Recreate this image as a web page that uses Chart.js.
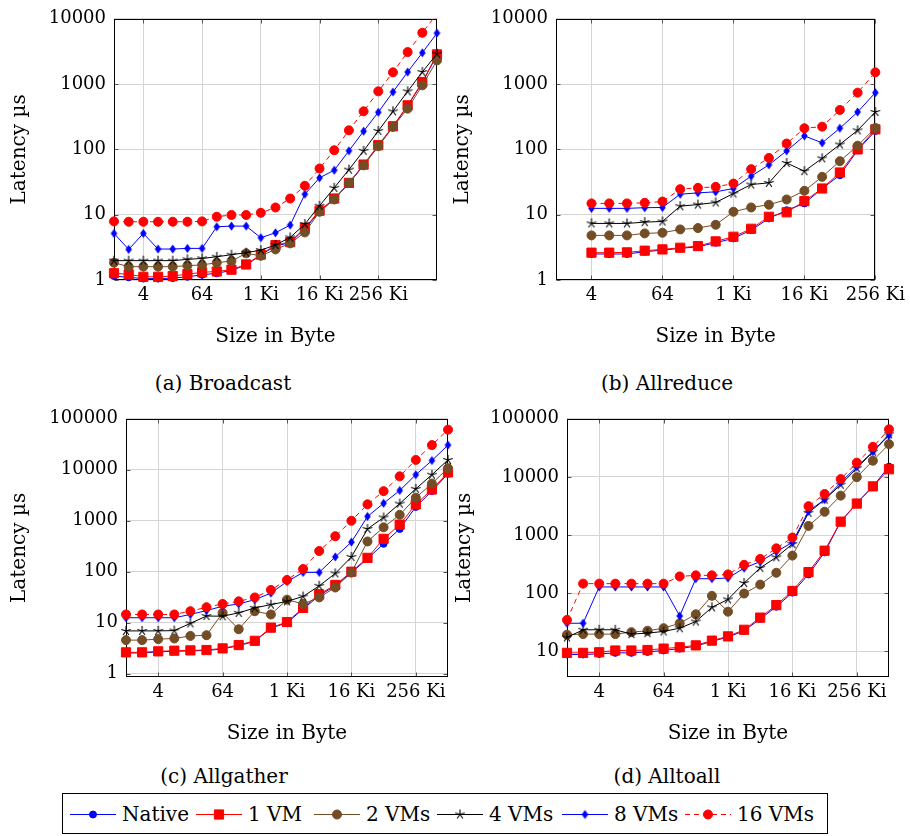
<!DOCTYPE html>
<html>
<head>
<meta charset="utf-8">
<script src="https://cdn.jsdelivr.net/npm/chart.js@4.4.1/dist/chart.umd.min.js"></script>
<style>
  body { margin: 0; width: 910px; height: 836px; background: #fff; position: relative; overflow: hidden;
         font-family: "DejaVu Serif", serif; color: #000; }
  canvas.panel { position: absolute; }
  .caption { position: absolute; font-size: 20px; line-height: 24px; transform: translateX(-50%); white-space: nowrap; }
  #legend { position: absolute; left: 62px; top: 793px; width: 766px; height: 41px; border: 1px solid #000;
            box-sizing: border-box; font-size: 20px; }
  #legend .item { position: absolute; top: 0; height: 39px; display: flex; align-items: center; white-space: nowrap; }
  #legend canvas { margin-right: 6px; }
</style>
</head>
<body>
<canvas id="bcast" class="panel"></canvas>
<canvas id="allreduce" class="panel"></canvas>
<canvas id="allgather" class="panel"></canvas>
<canvas id="alltoall" class="panel"></canvas>

<div class="caption" style="left:223px; top:371px">(a) Broadcast</div>
<div class="caption" style="left:667px; top:371px">(b) Allreduce</div>
<div class="caption" style="left:224px; top:764px">(c) Allgather</div>
<div class="caption" style="left:667px; top:764px">(d) Alltoall</div>
<div id="legend"></div>

<script>
// message sizes in byte
const sizes = [1, 2, 4, 8, 16, 32, 64, 128, 256, 512, 1024, 2048, 4096, 8192, 16384,
  32768, 65536, 131072, 262144, 524288, 1048576, 2097152, 4194304];
const sizesBcast = sizes.slice(0, 23);
const sizesAllreduce = sizes.slice(2, 19);
const sizesAllgather = sizes.slice(0, 21);
const sizesAlltoall = sizes.slice(0, 21);

const sizeTicks = [4, 64, 1024, 16384, 262144];
const sizeTickLabels = ["4", "64", "1 Ki", "16 Ki", "256 Ki"];
const latencyTicks = [1, 10, 100, 1000, 10000, 100000];

const seriesNames = ["Native", "1 VM", "2 VMs", "4 VMs", "8 VMs", "16 VMs"];

// (a) Broadcast, latency in µs
const bcastNative = [1.15, 1.1, 1.05, 1.05, 1.07, 1.12, 1.2, 1.27, 1.4, 1.7, 2.4, 3.35, 3.7, 6.1, 11.2, 17.3, 30, 57, 112, 222, 465, 1050, 2800];
const bcast1vm = [1.27, 1.22, 1.12, 1.12, 1.15, 1.23, 1.31, 1.35, 1.44, 1.73, 2.45, 3.43, 3.8, 6.3, 11.5, 17.7, 30.7, 58.6, 116, 226, 473, 1076, 2850];
const bcast2vm = [1.84, 1.6, 1.6, 1.6, 1.6, 1.66, 1.7, 1.84, 1.95, 2.56, 2.35, 2.94, 3.64, 5.35, 11.1, 17.1, 30.7, 57, 112, 221, 421, 957, 2307];
const bcast4vm = [1.98, 1.98, 1.98, 1.98, 1.98, 2.07, 2.14, 2.27, 2.44, 2.62, 2.87, 3.43, 4.49, 7.18, 13.7, 25.8, 49, 95, 192, 383, 774, 1530, 2918];
const bcast8vm = [5.17, 2.94, 5.17, 2.98, 2.98, 3.05, 3.05, 6.53, 6.69, 6.69, 4.44, 5.29, 6.93, 20.6, 36.7, 48, 95, 190, 370, 757, 1530, 3020, 6040];
const bcast16vm = [7.9, 7.8, 7.8, 7.8, 7.8, 7.8, 7.9, 9.3, 9.9, 9.9, 10.7, 12.9, 17.7, 27.7, 51, 97, 196, 383, 774, 1513, 3093, 6110, 12000];

// (b) Allreduce
const allreduceNative = [2.5, 2.5, 2.5, 2.71, 2.87, 3.05, 3.23, 3.72, 4.34, 5.81, 8.77, 11.7, 14.9, 25.2, 40.3, 97, 192];
const allreduce1vm = [2.62, 2.62, 2.65, 2.81, 2.94, 3.12, 3.31, 3.9, 4.6, 6.09, 9.3, 10.9, 16.1, 25.2, 44.3, 100, 203];
const allreduce2vm = [4.82, 4.82, 4.82, 5.17, 5.29, 5.95, 6.24, 7.01, 11.1, 12.9, 14.2, 17.1, 23.2, 38, 66, 114, 213];
const allreduce4vm = [7.35, 7.35, 7.35, 7.7, 7.88, 13.5, 14.3, 15.4, 21.1, 29, 30.7, 62, 46.4, 73, 119, 196, 374];
const allreduce8vm = [12.5, 12.5, 12.5, 12.8, 12.9, 20.6, 21.6, 22.4, 25.2, 38.9, 58, 95, 161, 126, 211, 374, 739];
const allreduce16vm = [14.9, 14.9, 14.9, 15.2, 15.9, 24.6, 25.8, 26.7, 30, 49.8, 74, 123, 211, 223, 402, 739, 1513];

// (c) Allgather
const allgatherNative = [2.55, 2.55, 2.68, 2.75, 2.8, 2.85, 3.05, 3.55, 4.3, 7.8, 10.0, 18.5, 34, 53, 96, 180, 353, 690, 1870, 3820, 8370];
const allgather1vm = [2.62, 2.62, 2.74, 2.82, 2.86, 2.91, 3.13, 3.64, 4.41, 8.0, 10.3, 19.5, 36, 55, 100, 187, 442, 837, 2100, 4100, 8880];
const allgather2vm = [4.55, 4.55, 4.76, 4.9, 5.5, 5.68, 15.6, 7.43, 16.8, 14.5, 28.3, 23.3, 31.3, 49, 96, 392, 743, 1306, 2830, 5360, 10770];
const allgather4vm = [6.9, 6.9, 6.9, 7.0, 9.7, 13.5, 13.4, 15.6, 19.5, 22.6, 26.2, 32.7, 52.8, 92.6, 195, 690, 1160, 2164, 4225, 8000, 15600];
const allgather8vm = [12.5, 12.5, 12.5, 12.5, 14.5, 17.3, 21, 23.3, 28.3, 38, 64, 97, 97, 195, 381, 1213, 2198, 3923, 8000, 15170, 30500];
const allgather16vm = [14.5, 14.5, 14.5, 14.5, 16.8, 20.1, 23.3, 26.2, 31.3, 44, 69, 113, 255, 497, 1000, 2100, 3810, 7430, 15600, 30500, 61200];

// (d) Alltoall
const alltoallNative = [8.77, 8.77, 9.0, 9.37, 9.37, 9.74, 10.3, 11.1, 12.2, 14.8, 17.5, 22.5, 36, 58.4, 102, 210, 503, 1698, 3573, 6870, 15000];
const alltoall1vm = [9.37, 9.37, 9.6, 10.3, 10.3, 10.5, 11.1, 11.7, 12.6, 15.2, 18.0, 23.4, 37.9, 62.2, 109, 230, 537, 1698, 3480, 6870, 13560];
const alltoall2vm = [19.2, 19.7, 19.7, 19.7, 21.3, 22.5, 24.9, 30.3, 43.2, 89.8, 47.9, 98.5, 140, 224, 442, 1433, 2512, 4760, 9900, 19000, 36600];
const alltoall4vm = [17.3, 23.4, 23.4, 23.4, 19.7, 20.5, 21.9, 24.9, 32.4, 56.9, 77.9, 149, 272, 414, 698, 2415, 4070, 7330, 14100, 27100, 54100];
const alltoall8vm = [30.3, 30.3, 127.6, 127.6, 127.6, 127.6, 127.6, 40.4, 177, 177, 182, 269, 349, 517, 745, 2576, 4070, 8040, 15000, 27100, 52000];
const alltoall16vm = [34.6, 145.6, 145.6, 145.6, 145.6, 145.6, 145.6, 194, 202, 202, 210, 307, 388, 589, 906, 3135, 5080, 9160, 17600, 32900, 65800];

// marker images for the pgfplots-like star and diamond
function starImage(r, color) {
  const c = document.createElement("canvas");
  const s = Math.ceil(2 * r + 2);
  c.width = s; c.height = s;
  const g = c.getContext("2d");
  g.strokeStyle = color;
  g.lineWidth = 1.1;
  g.beginPath();
  for (let k = 0; k < 5; k++) {
    const a = -Math.PI / 2 + (k * 2 * Math.PI) / 5;
    g.moveTo(s / 2, s / 2);
    g.lineTo(s / 2 + r * Math.cos(a), s / 2 + r * Math.sin(a));
  }
  g.stroke();
  return c;
}
function diamondImage(hw, hh, color) {
  const c = document.createElement("canvas");
  c.width = Math.ceil(2 * hw + 2);
  c.height = Math.ceil(2 * hh + 2);
  const g = c.getContext("2d");
  const cx = c.width / 2, cy = c.height / 2;
  g.fillStyle = color;
  g.beginPath();
  g.moveTo(cx, cy - hh);
  g.lineTo(cx + hw, cy);
  g.lineTo(cx, cy + hh);
  g.lineTo(cx - hw, cy);
  g.closePath();
  g.fill();
  return c;
}

const seriesStyles = [
  { color: "#0000ff", point: "circle", radius: 3.5, dash: [] },
  { color: "#ff0000", point: "rect", radius: 6.5, dash: [] },
  { color: "#734d26", point: "circle", radius: 4.5, dash: [] },
  { color: "#000000", point: starImage(5, "#000000"), radius: 5, dash: [] },
  { color: "#0000ff", point: diamondImage(3.3, 4.6, "#0000ff"), radius: 5, dash: [] },
  { color: "#ff0000", point: "circle", radius: 4.5, dash: [5, 4] },
];

// black frame round the plot area, with short tick marks inside it
const framePlugin = {
  id: "frame",
  beforeDatasetsDraw(chart) {
    const a = chart.chartArea;
    const ctx = chart.ctx;
    const l = Math.round(a.left) + 0.5, t = Math.round(a.top) + 0.5;
    const r = Math.round(a.right) - 0.5, b = Math.round(a.bottom) - 0.5;
    ctx.save();
    ctx.strokeStyle = "#555";
    ctx.lineWidth = 1;
    ctx.beginPath();
    chart.scales.x.ticks.forEach((tk) => {
      const px = Math.round(chart.scales.x.getPixelForValue(tk.value)) + 0.5;
      ctx.moveTo(px, b); ctx.lineTo(px, b - 4);
      ctx.moveTo(px, t); ctx.lineTo(px, t + 4);
    });
    chart.scales.y.ticks.forEach((tk) => {
      const py = Math.round(chart.scales.y.getPixelForValue(tk.value)) + 0.5;
      ctx.moveTo(l, py); ctx.lineTo(l + 4, py);
      ctx.moveTo(r, py); ctx.lineTo(r - 4, py);
    });
    ctx.stroke();
    ctx.strokeStyle = "#000";
    ctx.strokeRect(l, t, r - l, b - t);
    ctx.restore();
  },
};

function makePanel(id, box, xs, series, yMin, yMax) {
  const cv = document.getElementById(id);
  cv.width = box.w;
  cv.height = box.h;
  cv.style.left = box.x + "px";
  cv.style.top = box.y + "px";

  const datasets = series.map((vals, i) => {
    const st = seriesStyles[i];
    return {
      label: seriesNames[i],
      data: xs.map((s, j) => ({ x: s, y: vals[j] })),
      borderColor: st.color,
      backgroundColor: st.color,
      borderWidth: 1,
      borderDash: st.dash,
      pointStyle: st.point,
      pointRadius: st.radius,
      pointBackgroundColor: st.color,
      pointBorderColor: st.color,
      pointBorderWidth: 1,
      tension: 0,
      order: series.length - 1 - i,
      clip: { left: 10, right: 10, top: 0, bottom: 10 },
    };
  });

  return new Chart(cv, {
    type: "line",
    data: { datasets },
    plugins: [framePlugin],
    options: {
      responsive: false,
      animation: false,
      events: [],
      layout: { padding: { left: 0, top: box.padTop, right: box.padRight, bottom: 0 } },
      plugins: { legend: { display: false }, tooltip: { enabled: false } },
      scales: {
        x: {
          type: "logarithmic",
          min: 1,
          max: box.xMax,
          afterBuildTicks: (scale) => {
            scale.ticks = sizeTicks.map((v) => ({ value: v }));
          },
          afterFit: (scale) => { scale.height = 69; },
          border: { display: false },
          grid: { color: "#d4d4d4", lineWidth: 1, drawTicks: false },
          ticks: {
            autoSkip: false,
            maxRotation: 0,
            padding: 5,
            color: "#000",
            font: { family: "DejaVu Serif", size: 18 },
            callback: (v) => sizeTickLabels[sizeTicks.indexOf(v)],
          },
          title: {
            display: true,
            text: "Size in Byte",
            color: "#000",
            padding: 0,
            font: { family: "DejaVu Serif", size: 20 },
          },
        },
        y: {
          type: "logarithmic",
          min: yMin,
          max: yMax,
          afterBuildTicks: (scale) => {
            scale.ticks = latencyTicks
              .filter((v) => v >= scale.min && v <= scale.max * 1.0001)
              .map((v) => ({ value: v }));
          },
          afterFit: (scale) => { scale.width = box.yWidth; },
          border: { display: false },
          grid: { color: "#d4d4d4", lineWidth: 1, drawTicks: false },
          ticks: {
            padding: 8,
            color: "#000",
            font: { family: "DejaVu Serif", size: 18 },
            callback: (v) => String(v),
          },
          title: {
            display: true,
            text: "Latency µs",
            color: "#000",
            padding: { top: 8, bottom: 0 },
            font: { family: "DejaVu Serif", size: 20 },
          },
        },
      },
    },
  });
}

makePanel("bcast", { x: 0, y: 0, w: 455, h: 349, padTop: 18, padRight: 18, yWidth: 114, xMax: 4194304 },
  sizesBcast, [bcastNative, bcast1vm, bcast2vm, bcast4vm, bcast8vm, bcast16vm], 1, 10000);
makePanel("allreduce", { x: 443, y: 0, w: 467, h: 349, padTop: 18, padRight: 31, yWidth: 113, xMax: 262144 },
  sizesAllreduce, [allreduceNative, allreduce1vm, allreduce2vm, allreduce4vm, allreduce8vm, allreduce16vm], 1, 10000);
makePanel("allgather", { x: 0, y: 400, w: 470, h: 346, padTop: 15, padRight: 22, yWidth: 126, xMax: 1048576 },
  sizesAllgather, [allgatherNative, allgather1vm, allgather2vm, allgather4vm, allgather8vm, allgather16vm], 0.86, 100000);
makePanel("alltoall", { x: 445, y: 400, w: 465, h: 346, padTop: 15, padRight: 21, yWidth: 122, xMax: 1048576 },
  sizesAlltoall, [alltoallNative, alltoall1vm, alltoall2vm, alltoall4vm, alltoall8vm, alltoall16vm], 3.6, 100000);

// shared legend below the four panels
const legendItemLeft = [7, 133, 251, 374, 499, 622];
const legend = document.getElementById("legend");
seriesNames.forEach((name, i) => {
  const st = seriesStyles[i];
  const item = document.createElement("div");
  item.className = "item";
  item.style.left = legendItemLeft[i] + "px";
  const icon = document.createElement("canvas");
  icon.width = 46;
  icon.height = 20;
  const g = icon.getContext("2d");
  g.strokeStyle = st.color;
  g.lineWidth = 1;
  g.setLineDash(st.dash);
  g.beginPath();
  g.moveTo(0, 10.5);
  g.lineTo(46, 10.5);
  g.stroke();
  g.setLineDash([]);
  g.fillStyle = st.color;
  Chart.helpers.drawPoint(g, { pointStyle: st.point, radius: st.radius, borderWidth: 1, rotation: 0 }, 23, 10.5);
  const label = document.createElement("span");
  label.textContent = name;
  item.appendChild(icon);
  item.appendChild(label);
  legend.appendChild(item);
});
</script>
</body>
</html>
